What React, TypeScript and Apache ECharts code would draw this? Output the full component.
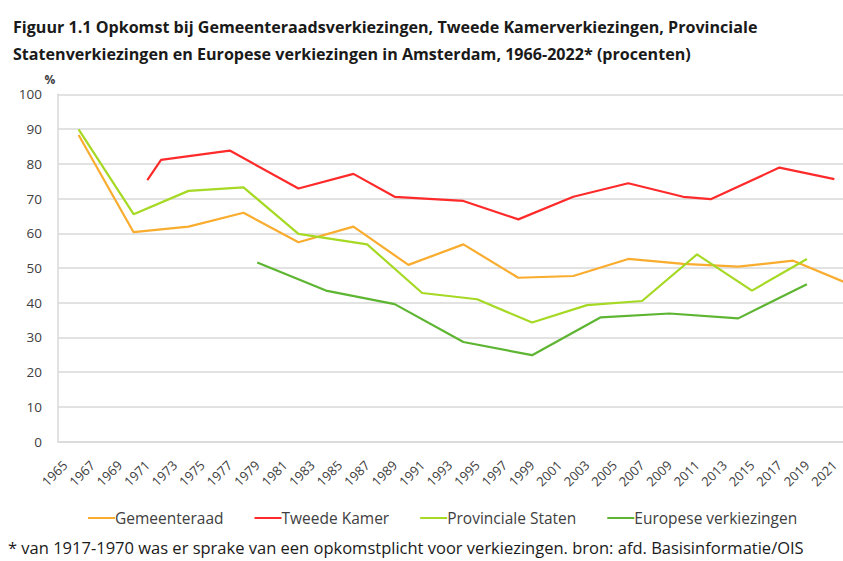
import React, { useEffect, useRef } from "react";
import * as echarts from "echarts";

const titleLines = [
  "Figuur 1.1 Opkomst bij Gemeenteraadsverkiezingen, Tweede Kamerverkiezingen, Provinciale",
  "Statenverkiezingen en Europese verkiezingen in Amsterdam, 1966-2022* (procenten)",
];
const footnote =
  "* van 1917-1970 was er sprake van een opkomstplicht voor verkiezingen. bron: afd. Basisinformatie/OIS";

const firstYear = 1965;
const lastYear = 2022;
const yTicks = { min: 0, max: 100, interval: 10 };

const seriesNames = ["Gemeenteraad", "Tweede Kamer", "Provinciale Staten", "Europese verkiezingen"];
const seriesColors = ["#F9AC2E", "#FF2A2A", "#A5D923", "#5DB532"];

const gemeenteraadYears = [1966, 1970, 1974, 1978, 1982, 1986, 1990, 1994, 1998, 2002, 2006, 2010, 2014, 2018, 2022];
const gemeenteraadValues = [88.3, 60.3, 61.9, 65.9, 57.4, 61.9, 50.9, 56.8, 47.2, 47.7, 52.6, 51.2, 50.4, 52.1, 45.5];

const tweedeKamerYears = [1971, 1972, 1977, 1982, 1986, 1989, 1994, 1998, 2002, 2006, 2010, 2012, 2017, 2021];
const tweedeKamerValues = [75.3, 81.1, 83.8, 72.9, 77.1, 70.5, 69.3, 64.0, 70.5, 74.4, 70.5, 69.8, 78.9, 75.6];

const provincialeYears = [1966, 1970, 1974, 1978, 1982, 1987, 1991, 1995, 1999, 2003, 2007, 2011, 2015, 2019];
const provincialeValues = [89.9, 65.5, 72.2, 73.2, 59.8, 56.8, 42.8, 41.0, 34.3, 39.3, 40.5, 53.9, 43.5, 52.6];

const europeseYears = [1979, 1984, 1989, 1994, 1999, 2004, 2009, 2014, 2019];
const europeseValues = [51.6, 43.5, 39.6, 28.7, 24.9, 35.8, 36.9, 35.5, 45.3];

const categories: string[] = [];
for (let y = firstYear; y <= lastYear; y++) categories.push(String(y));

const pairs = (years: number[], values: number[]) => years.map((y, i) => [String(y), values[i]]);

const allData = [
  pairs(gemeenteraadYears, gemeenteraadValues),
  pairs(tweedeKamerYears, tweedeKamerValues),
  pairs(provincialeYears, provincialeValues),
  pairs(europeseYears, europeseValues),
];

const FONT = "'Open Sans', Lato, sans-serif";

export default function App() {
  const ref = useRef<HTMLDivElement>(null);
  useEffect(() => {
    if (!ref.current) return;
    const chart = echarts.init(ref.current, undefined, { renderer: "svg" });
    chart.setOption({
      animation: false,
      backgroundColor: "#ffffff",
      textStyle: { fontFamily: FONT },
      title: {
        text: titleLines.join("\n"),
        left: 8,
        top: 8,
        textStyle: {
          fontFamily: FONT,
          fontSize: 16.1,
          fontWeight: "bold",
          color: "#1a1a1a",
          lineHeight: 27,
        },
      },
      grid: { left: 58, right: 15, top: 94.3, bottom: 119.3, containLabel: false },
      legend: {
        left: 83,
        top: 505,
        itemWidth: 27,
        itemHeight: 2,
        itemGap: 31,
        icon: "rect",
        textStyle: { fontFamily: FONT, fontSize: 15.5, color: "#404040", padding: [0, 0, 0, -5] },
        data: seriesNames,
      },
      graphic: [
        {
          type: "text",
          left: 8,
          top: 539,
          style: { text: footnote, font: `16.5px ${FONT}`, fill: "#1a1a1a" },
        },
        {
          type: "text",
          x: 50,
          y: 79,
          style: { text: "%", font: `bold 12px ${FONT}`, fill: "#404040", align: "center", verticalAlign: "middle" },
        },
      ],
      xAxis: {
        type: "category",
        data: categories,
        boundaryGap: true,
        axisLine: { show: true, lineStyle: { color: "#d9d9d9", width: 1.5 } },
        axisTick: { show: false },
        axisLabel: {
          interval: 1,
          rotate: 45,
          fontSize: 13,
          color: "#404040",
          margin: 21,
        },
        splitLine: { show: false },
      },
      yAxis: {
        type: "value",
        min: yTicks.min,
        max: yTicks.max,
        interval: yTicks.interval,
        axisLine: { show: true, lineStyle: { color: "#d9d9d9", width: 1.5 } },
        axisTick: { show: false },
        axisLabel: { fontSize: 13.5, color: "#404040", margin: 16 },
        splitLine: { show: true, lineStyle: { color: "#d9d9d9", width: 1.5 } },
      },
      series: seriesNames.map((name, i) => ({
        name,
        type: "line",
        data: allData[i],
        connectNulls: true,
        showSymbol: false,
        symbol: "none",
        color: seriesColors[i],
        lineStyle: { color: seriesColors[i], width: 2.2 },
      })),
    });
    return () => chart.dispose();
  }, []);
  return (
    <div
      style={{ position: "absolute", left: 0, top: 0, width: 843, height: 561, overflow: "hidden" }}
    >
      <div ref={ref} style={{ position: "absolute", left: 0, top: 0, width: 870, height: 561 }} />
    </div>
  );
}
